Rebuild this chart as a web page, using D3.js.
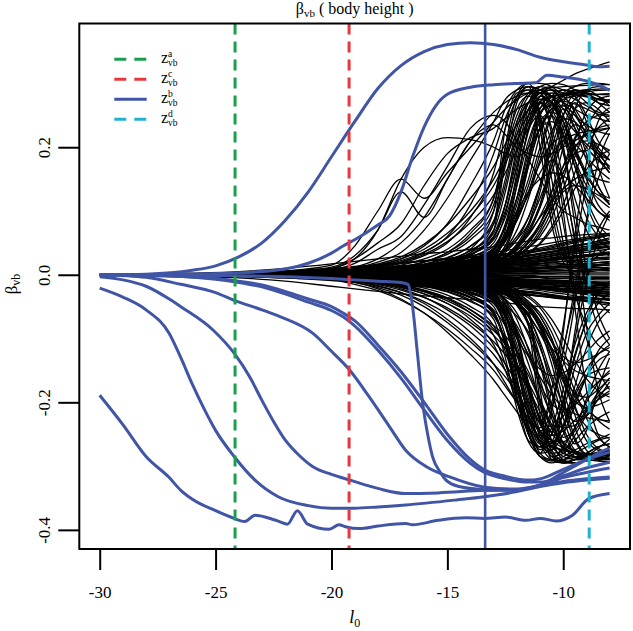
<!DOCTYPE html>
<html>
<head>
<meta charset="utf-8">
<script src="https://cdn.jsdelivr.net/npm/d3@7"></script>
<style>
  body { margin: 0; background: #fff; }
  svg text { font-family: "Liberation Serif", "DejaVu Serif", serif; white-space: pre; }
</style>
</head>
<body>
<svg id="chart" width="633" height="631"></svg>
<script>
// l0 grid shared by all the black coefficient paths
var gridX = [-30, -27, -24, -22, -20, -19, -18, -17, -16, -15, -14, -13, -12.5, -12, -11.5, -11, -10.5, -10, -9.5, -9, -8.5, -8];

// Black paths, beta x 1000, one value per gridX
// paths that stay close to zero (the dense wedge)
var fanPaths = [
  [0,0,1,2,4, 5,6,8,10,12, 14,17,18,20,22, 24,26,28,30,31, 33,35],
  [0,0,-1,-2,-4, -5,-6,-8,-9,-11, -13,-15,-16,-17,-18, -20,-22,-24,-25,-27, -28,-30],
  [0,1,2,4,7, 9,11,14,16,19, 22,26,28,31,34, 37,40,43,46,49, 52,55],
  [0,-1,-2,-4,-7, -9,-11,-13,-16,-18, -21,-24,-26,-28,-30, -33,-35,-37,-39,-41, -42,-44],
  [0,0,0,1,2, 2,3,4,5,6, 7,8,9,9,10, 11,12,13,13,14, 15,15],
  [0,0,0,-1,-2, -2,-3,-3,-4,-5, -6,-7,-7,-8,-9, -9,-10,-11,-11,-12, -13,-13],
  [0,0,1,3,6, 8,10,12,14,17, 20,24,27,30,34, 38,42,46,50,54, 58,62],
  [0,0,-1,-3,-5, -7,-9,-11,-13,-15, -17,-20,-22,-24,-26, -28,-31,-34,-37,-40, -42,-45],
  [0,0,0,0,1, 1,1,2,2,3, 3,4,4,5,5, 5,6,6,7,7, 8,8],
  [0,0,0,0,-1, -1,-1,-2,-2,-2, -3,-3,-3,-4,-4, -4,-5,-5,-5,-6, -6,-6],
  [0,1,3,6,10, 13,16,19,22,25, 28,31,33,35,36, 38,40,42,45,48, 50,52],
  [0,-1,-3,-5,-9, -11,-14,-17,-19,-22, -25,-28,-30,-31,-32, -34,-36,-38,-40,-41, -43,-45],
  [0,0,1,2,3, 4,5,6,8,9, 11,13,14,16,17, 18,20,21,22,24, 25,26],
  [0,0,-1,-2,-3, -4,-5,-6,-7,-8, -10,-11,-12,-13,-14, -15,-16,-17,-18,-19, -20,-21],
  [0,0,2,4,8, 11,14,18,22,26, 30,35,38,41,44, 47,50,53,56,59, 62,65],
  [0,0,-2,-4,-7, -9,-12,-15,-18,-21, -24,-27,-29,-31,-32, -33,-34,-35,-36,-36, -37,-38],
  [0,0,0,1,1, 2,2,3,3,4, 5,6,6,7,8, 9,10,11,12,13, 14,15],
  [0,0,0,-1,-1, -2,-2,-3,-4,-5, -6,-7,-8,-9,-10, -11,-12,-13,-14,-14, -15,-16],
  [0,0,1,2,4, 6,7,9,11,13, 15,18,20,23,26, 29,32,35,38,41, 44,47],
  [0,0,-1,-2,-3, -4,-6,-7,-9,-10, -12,-14,-15,-17,-19, -21,-23,-25,-27,-29, -31,-33],
  [0,1,2,5,9, 12,15,18,21,24, 27,30,32,34,37, 40,44,48,52,56, 59,62],
  [0,-1,-2,-5,-8, -10,-12,-14,-16,-18, -20,-22,-24,-26,-28, -30,-32,-34,-35,-36, -37,-38],
  [0,0,1,3,5, 7,9,12,15,19, 23,28,31,34,38, 42,46,50,54,57, 60,63],
  [0,0,-1,-3,-6, -8,-10,-13,-16,-19, -22,-25,-27,-29,-31, -33,-35,-36,-37,-38, -39,-40],
  [0,0,0,1,3, 4,5,7,9,11, 13,16,19,22,25, 27,30,33,36,39, 42,44],
  [0,0,0,-1,-2, -3,-4,-5,-6,-8, -9,-11,-12,-14,-16, -18,-20,-22,-24,-25, -26,-28],
  [0,2,5,10,17, 21,25,29,33,36, 40,44,47,50,53, 56,58,60,62,63, 64,65],
  [0,-2,-5,-10,-18, -22,-26,-30,-33,-36, -39,-42,-44,-46,-48, -50,-51,-52,-53,-53, -54,-55],
  [0,0,1,3,5, 7,9,11,13,16, 19,23,25,28,31, 34,37,40,44,48, 53,58],
  [0,0,1,2,4, 6,8,10,12,14, 17,20,22,24,27, 30,33,36,39,42, 46,50],
  [0,0,1,2,4, 5,7,9,11,13, 15,18,20,22,24, 27,30,33,36,39, 42,45],
  [0,0,1,2,3, 5,6,8,10,12, 14,16,18,20,22, 24,27,30,33,35, 38,40],
  [0,0,0,2,3, 4,6,7,9,11, 13,15,16,18,20, 22,24,27,29,31, 34,36],
  [0,0,0,1,3, 4,5,7,8,10, 12,13,15,16,18, 20,22,24,26,28, 30,32],
  [0,0,0,1,2, 3,4,6,7,8, 10,12,13,14,16, 17,19,21,23,25, 27,28],
  [0,0,0,1,2, 3,4,5,6,7, 9,10,11,12,14, 15,17,18,20,21, 23,24],
  [0,0,0,1,2, 2,3,4,5,6, 7,8,9,10,11, 12,13,15,16,17, 19,20],
  [0,0,0,1,1, 2,2,3,4,5, 6,7,8,9,10, 11,12,13,14,15, 16,17],
  [0,0,0,0,1, 1,2,2,3,3, 4,5,5,6,7, 7,8,9,10,11, 11,12],
  [0,0,0,0,1, 1,1,2,2,3, 3,4,4,5,5, 6,6,7,7,8, 9,10],
  [0,0,0,0,0, 1,1,1,1,2, 2,2,3,3,3, 4,4,4,5,5, 6,6],
  [0,0,0,0,0, 0,0,1,1,1, 1,1,2,2,2, 2,2,3,3,3, 3,3],
  [0,0,0,0,0, 0,0,0,0,0, 0,0,1,1,1, 1,1,1,1,1, 1,1],
  [0,0,0,0,0, 0,0,0,-1,-1, -1,-1,-1,-1,-1, -2,-2,-2,-2,-2, -2,-2],
  [0,0,0,0,0, 0,-1,-1,-1,-1, -2,-2,-2,-2,-3, -3,-3,-3,-4,-4, -4,-4],
  [0,0,0,0,-1, -1,-1,-2,-2,-3, -3,-4,-4,-5,-5, -5,-6,-6,-7,-7, -8,-8],
  [0,0,0,0,-1, -1,-2,-2,-3,-4, -4,-5,-6,-6,-7, -8,-8,-9,-10,-10, -11,-11],
  [0,0,0,-1,-1, -2,-2,-3,-4,-5, -6,-7,-8,-9,-10, -10,-11,-12,-13,-13, -14,-14],
  [0,0,0,-1,-2, -2,-3,-4,-5,-6, -7,-8,-9,-10,-11, -12,-13,-14,-15,-16, -17,-17],
  [0,0,0,-1,-2, -3,-4,-5,-6,-7, -8,-10,-11,-12,-13, -14,-15,-17,-18,-19, -20,-20],
  [0,0,-1,-1,-2, -3,-4,-5,-7,-8, -10,-11,-12,-14,-15, -17,-18,-19,-21,-22, -23,-24],
  [0,0,-1,-2,-3, -4,-5,-6,-8,-9, -11,-13,-14,-15,-17, -19,-20,-22,-24,-25, -26,-27],
  [0,0,-1,-2,-3, -4,-6,-7,-9,-11, -12,-14,-16,-17,-19, -21,-23,-25,-27,-28, -29,-31],
  [0,0,-1,-2,-4, -5,-6,-8,-10,-12, -14,-16,-17,-19,-21, -23,-25,-27,-29,-31, -33,-35],
  [0,0,-1,-2,-4, -5,-7,-9,-11,-13, -15,-17,-19,-21,-23, -25,-28,-30,-33,-35, -37,-40],
  [0,0,-1,-3,-5, -6,-8,-10,-12,-14, -17,-19,-21,-24,-27, -30,-33,-36,-39,-42, -45,-48],
  [0,0,1,2,4, 5,7,8,10,12, 14,17,19,21,24, 26,29,32,35,38, 41,43],
  [0,0,1,2,3, 4,5,7,8,10, 12,14,16,18,20, 22,25,27,29,31, 33,34],
  [0,0,0,1,2, 3,4,5,6,8, 9,11,12,14,15, 17,19,21,23,24, 26,27],
  [0,0,0,1,2, 3,4,5,7,9, 11,13,15,17,19, 21,23,25,28,30, 32,34],
  [0,0,1,3,5, 6,8,10,12,15, 18,21,24,27,30, 33,36,39,42,45, 47,49],
  [0,0,0,1,2, 2,3,4,5,7, 8,9,10,11,13, 14,15,16,17,18, 19,21],
  [0,0,0,-1,-2, -2,-3,-4,-5,-6, -8,-9,-10,-11,-12, -13,-14,-15,-17,-18, -19,-19],
  [0,0,0,-1,-2, -3,-4,-5,-6,-7, -9,-10,-11,-13,-14, -15,-16,-18,-19,-21, -22,-23],
  [0,0,-1,-2,-3, -4,-5,-6,-7,-9, -10,-12,-13,-15,-16, -18,-19,-21,-22,-24, -25,-26],
  [0,0,-1,-2,-3, -4,-5,-7,-8,-10, -12,-13,-15,-16,-18, -20,-21,-23,-25,-26, -28,-30],
  [0,0,-1,-2,-4, -5,-6,-8,-9,-11, -13,-15,-17,-18,-20, -22,-24,-26,-28,-30, -32,-34],
  [0,0,0,0,1, 1,2,2,3,4, 5,6,7,8,9, 10,11,12,13,14, 16,18],
  [0,0,0,0,-1, -1,-2,-2,-3,-4, -4,-5,-6,-7,-8, -8,-9,-10,-11,-12, -12,-13],
  [0,1,2,4,6, 8,10,12,14,16, 18,21,23,26,29, 32,35,38,41,44, 48,52],
  [0,0,0,1,2, 3,5,6,8,10, 11,13,15,17,19, 21,23,25,27,29, 31,33]
];

// paths that climb to large positive values
var risePaths = [
  [0,1,3,6,15, 45,100,150,120,160, 200,240,260,275,285, 290,293,295,296,297, 298,298],
  [0,1,2,5,12, 30,70,130,90,150, 210,235,220,200,190, 185,190,200,210,220, 225,230],
  [0,0,2,4,10, 25,50,80,140,190, 215,230,245,260,270, 275,280,283,285,287, 289,290],
  [0,0,1,3,8, 18,40,60,110,170, 230,250,240,210,180, 150,120,100,90,80, 75,70],
  [0,0,1,3,6, 12,25,50,90,150, 210,255,270,280,285, 285,280,270,260,250, 245,240],
  [0,0,1,2,5, 10,20,35,70,120, 180,240,275,290,295, 290,280,260,230,200, 180,170],
  [0,0,0,2,4, 8,15,25,45,80, 140,210,260,290,300, 300,295,280,260,230, 200,180],
  [0,0,0,1,3, 6,12,20,35,60, 110,190,245,280,295, 290,270,240,200,160, 130,110],
  [0,0,0,1,3, 5,10,18,30,50, 90,160,230,275,290, 285,260,220,170,130, 100,90],
  [0,0,0,1,2, 5,9,15,25,40, 70,120,190,250,285, 295,290,270,250,235, 225,220],
  [0,0,0,1,2, 4,8,13,20,32, 55,100,170,240,280, 295,300,298,290,280, 270,265],
  [0,0,0,1,2, 4,7,11,17,27, 45,80,140,220,270, 290,280,240,180,120, 80,60],
  [0,0,0,0,2, 3,6,10,15,23, 38,65,110,180,250, 285,290,270,230,180, 140,110],
  [0,0,0,0,1, 3,5,8,13,20, 32,55,90,150,230, 280,290,285,275,265, 255,250],
  [0,0,0,0,1, 3,5,8,12,18, 28,45,75,120,180, 250,280,290,285,270, 250,230],
  [0,0,0,0,1, 2,4,7,11,16, 25,40,60,100,150, 220,270,290,280,250, 210,190],
  [0,0,0,0,1, 2,4,6,10,15, 22,35,55,85,130, 190,250,280,290,285, 275,270],
  [0,0,0,1,2, 4,7,12,20,35, 65,120,200,260,280, 250,180,80,-20,-100, -150,-180],
  [0,0,0,1,2, 4,6,10,16,26, 45,85,150,230,270, 240,150,50,-30,-80, -110,-120],
  [0,0,0,0,1, 3,5,9,14,22, 38,70,130,210,260, 270,230,150,60,0, -40,-60],
  [0,0,0,1,2, 4,7,12,20,35, 60,110,180,240,270, 285,295,305,315,322, 328,334],
  [0,0,0,0,1, 2,4,6,9,14, 22,35,55,90,140, 200,255,285,295,300, 300,298],
  [0,0,0,0,1, 2,3,5,8,12, 18,28,40,60,90, 140,200,250,275,285, 280,270],
  [0,0,0,0,1, 2,3,5,7,11, 17,26,38,55,80, 120,170,220,260,270, 260,240],
  [0,0,0,1,2, 3,5,8,13,20, 35,80,200,280,300, 250,120,40,20,15, 12,10],
  [0,0,0,1,2, 3,5,8,12,18, 30,70,180,270,295, 230,100,30,15,10, 8,6],
  [0,0,0,1,2, 4,6,9,14,22, 40,100,230,285,290, 200,80,20,0,-10, -15,-20],
  [0,1,2,4,10, 25,70,150,200,215, 212,200,190,185,200, 230,260,275,280,282, 283,284],
  [0,0,0,0,1, 2,3,4,6,9, 14,22,40,90,170, 230,260,265,250,220, 190,170],
  [0,0,0,0,1, 2,3,5,7,10, 16,28,60,140,230, 270,250,190,120,70, 40,30],
  [0,0,0,0,1, 1,2,3,5,7, 11,17,26,40,65, 110,180,250,285,290, 280,265],
  [0,0,0,0,1, 2,3,4,6,8, 12,18,28,45,75, 130,210,260,240,190, 140,110],
  [0,0,0,0,1, 2,3,5,7,11, 18,32,70,160,250, 285,280,250,200,150, 110,90],
  [0,0,0,1,2, 3,5,8,12,19, 32,60,110,190,260, 290,295,290,285,280, 275,272],
  [0,0,0,0,1, 1,2,3,4,6, 9,13,19,28,42, 65,100,150,210,255, 275,280],
  [0,0,0,0,1, 2,3,4,5,7, 10,15,22,34,52, 80,120,170,215,240, 250,255],
  [0,0,0,1,2, 3,4,6,9,13, 20,34,60,110,180, 230,240,220,180,140, 120,105],
  [0,0,0,1,2, 3,5,7,11,17, 28,50,95,170,240, 275,270,230,170,110, 70,50],
  [0,0,0,0,1, 2,3,4,6,9, 13,20,30,48,80, 140,220,270,290,285, 270,255],
  [0,0,0,0,1, 2,3,5,8,12, 19,33,62,120,190, 240,255,245,225,205, 190,180],
  [0,0,0,0,1, 2,3,4,6,9, 13,20,30,45,65, 90,115,135,150,160, 165,168],
  [0,0,0,0,1, 1,2,3,5,7, 10,15,22,33,50, 75,105,130,140,135, 125,115],
  [0,0,0,1,2, 3,4,6,9,14, 22,38,65,100,130, 150,160,155,140,120, 100,85],
  [0,0,0,1,1, 2,4,6,9,14, 22,36,58,90,125, 160,190,210,220,225, 228,230],
  [0,0,1,2,5, 9,15,25,40,65, 100,150,185,220,250, 268,278,284,288,290, 291,292],
  [0,0,0,2,4, 8,13,22,36,58, 92,140,175,210,240, 262,274,280,283,284, 283,282],
  [0,0,1,2,5, 10,17,28,48,78, 120,170,205,235,258, 272,280,283,282,279, 276,274],
  [0,0,0,1,4, 7,12,20,32,52, 82,125,160,195,230, 255,268,272,268,260, 252,248],
  [0,0,0,0,1, 2,3,4,6,9, 14,24,45,95,180, 250,270,240,190,160, 150,145],
  [0,0,0,0,1, 2,3,4,5,7, 11,17,27,42,66, 105,160,210,235,225, 195,165],
  [0,0,0,0,1, 1,2,3,5,7, 10,14,20,29,42, 60,90,135,185,230, 260,275],
  [0,0,0,1,2, 3,4,6,9,14, 23,40,75,140,210, 255,265,240,195,155, 130,120],
  [0,0,0,0,1, 2,3,4,6,8, 12,18,26,38,55, 80,115,160,190,195, 180,160],
  [0,0,0,0,1, 2,3,5,7,10, 15,24,40,70,120, 180,225,245,240,215, 185,160],
  [0,0,0,0,1, 1,2,3,4,6, 8,11,16,23,33, 48,70,100,135,165, 185,195],
  [0,0,0,1,2, 3,4,6,9,13, 20,32,52,85,130, 175,205,215,205,185, 165,150],
  [0,0,0,1,2, 3,5,7,10,15, 24,42,80,150,225, 270,285,280,255,220, 195,180],
  [0,0,0,0,1, 2,3,4,6,9, 13,19,28,42,62, 92,130,170,200,210, 205,195]
];

// paths that fall to large negative values
var dropPaths = [
  [0,0,-1,-3,-8, -15,-25,-40,-60,-85, -115,-150,-175,-200,-225, -245,-260,-272,-280,-285, -288,-290],
  [0,0,-1,-2,-6, -12,-20,-32,-50,-75, -105,-140,-160,-185,-215, -245,-270,-285,-290,-288, -285,-282],
  [0,0,-1,-2,-5, -10,-18,-28,-42,-62, -90,-125,-150,-180,-220, -260,-285,-293,-290,-280, -270,-265],
  [0,0,-1,-2,-4, -8,-14,-22,-35,-55, -80,-115,-140,-170,-210, -250,-280,-295,-295,-290, -285,-280],
  [0,0,0,-2,-4, -7,-12,-19,-30,-45, -70,-110,-150,-200,-250, -285,-295,-290,-280,-270, -260,-255],
  [0,0,0,-1,-3, -6,-10,-16,-25,-38, -60,-95,-140,-195,-250, -285,-290,-270,-240,-200, -170,-150],
  [0,0,0,-1,-3, -5,-9,-14,-21,-32, -50,-80,-120,-180,-240, -280,-290,-285,-275,-265, -258,-250],
  [0,0,0,-1,-2, -5,-8,-12,-18,-27, -42,-65,-100,-150,-210, -265,-290,-295,-290,-285, -280,-278],
  [0,0,0,-1,-2, -4,-7,-11,-16,-24, -36,-55,-80,-120,-170, -230,-275,-292,-295,-290, -285,-280],
  [0,0,0,-1,-2, -4,-6,-10,-14,-20, -30,-45,-65,-95,-140, -200,-260,-290,-295,-292, -290,-288],
  [0,0,0,-1,-2, -3,-5,-8,-12,-18, -27,-40,-55,-80,-115, -165,-225,-275,-290,-290, -285,-280],
  [0,0,0,-1,-2, -3,-5,-7,-11,-16, -24,-35,-48,-65,-90, -130,-185,-240,-275,-285, -280,-270],
  [0,0,0,-1,-2, -3,-5,-7,-10,-14, -20,-28,-35,-45,-60, -200,-290,-295,-290,-280, -270,-265],
  [0,0,0,-1,-1, -3,-4,-6,-9,-13, -18,-25,-32,-40,-55, -180,-280,-295,-295,-290, -285,-280],
  [0,0,0,0,-1, -2,-4,-6,-9,-12, -17,-23,-30,-40,-80, -220,-285,-280,-260,-240, -225,-215],
  [0,0,0,-1,-2, -4,-7,-11,-17,-26, -40,-70,-130,-210,-260, -270,-240,-180,-110,-60, -30,-15],
  [0,0,0,-1,-2, -4,-6,-10,-15,-23, -36,-60,-110,-190,-250, -270,-250,-200,-130,-70, -30,-10],
  [0,0,0,-1,-2, -4,-6,-9,-14,-22, -35,-60,-110,-180,-230, -240,-180,-80,40,140, 200,230],
  [0,0,0,-1,-2, -3,-5,-8,-12,-18, -28,-45,-80,-140,-200, -230,-200,-120,-20,80, 150,190],
  [0,0,-1,-3,-7, -12,-22,-38,-60,-90, -125,-165,-190,-215,-240, -260,-270,-275,-278,-280, -282,-283],
  [0,0,-1,-2,-6, -10,-17,-28,-45,-70, -100,-140,-170,-200,-230, -255,-268,-275,-280,-283, -285,-286],
  [0,0,0,-1,-3, -5,-9,-15,-24,-36, -55,-85,-110,-140,-180, -225,-260,-280,-285,-283, -280,-276],
  [0,0,0,0,-1, -2,-3,-5,-7,-10, -14,-20,-27,-36,-50, -75,-120,-180,-240,-275, -290,-295],
  [0,0,0,0,-1, -2,-3,-5,-7,-10, -15,-21,-28,-38,-55, -85,-140,-210,-260,-285, -290,-290],
  [0,0,0,0,-1, -2,-3,-4,-6,-9, -13,-18,-24,-32,-45, -65,-100,-160,-220,-260, -275,-280],
  [0,0,0,0,-1, -2,-3,-4,-6,-9, -14,-22,-40,-90,-170, -230,-260,-262,-245,-215, -190,-175],
  [0,0,0,0,-1, -2,-3,-5,-7,-10, -16,-28,-60,-140,-225, -265,-250,-195,-125,-75, -45,-30],
  [0,0,0,0,-1, -1,-2,-3,-5,-7, -11,-17,-26,-40,-65, -110,-180,-245,-280,-288, -282,-270],
  [0,0,0,0,-1, -2,-3,-4,-6,-8, -12,-18,-28,-45,-75, -130,-205,-255,-240,-195, -150,-120],
  [0,0,0,0,-1, -2,-3,-5,-7,-11, -18,-32,-70,-160,-245, -280,-275,-250,-205,-160, -120,-100],
  [0,0,0,-1,-2, -3,-5,-8,-12,-19, -32,-58,-105,-180,-250, -285,-292,-290,-286,-282, -278,-275],
  [0,0,0,0,-1, -1,-2,-3,-4,-6, -9,-13,-19,-28,-42, -65,-100,-150,-205,-250, -272,-278],
  [0,0,0,0,-1, -2,-3,-4,-5,-7, -10,-15,-22,-34,-52, -80,-120,-165,-210,-238, -250,-256],
  [0,0,0,-1,-2, -3,-4,-6,-9,-13, -20,-34,-60,-110,-175, -225,-238,-222,-185,-148, -125,-110],
  [0,0,0,-1,-2, -3,-5,-7,-11,-17, -28,-50,-95,-165,-235, -270,-268,-235,-175,-115, -75,-55],
  [0,0,0,0,-1, -2,-3,-4,-6,-9, -13,-20,-30,-48,-80, -140,-215,-265,-287,-284, -272,-258],
  [0,0,0,0,-1, -2,-3,-5,-8,-12, -19,-33,-62,-118,-185, -235,-252,-245,-228,-210, -196,-186],
  [0,0,0,0,-1, -2,-3,-4,-6,-9, -13,-20,-30,-45,-65, -90,-115,-135,-150,-158, -163,-166],
  [0,0,0,0,-1, -1,-2,-3,-5,-7, -10,-15,-22,-33,-50, -75,-105,-128,-138,-134, -124,-114],
  [0,0,0,-1,-2, -3,-4,-6,-9,-14, -22,-38,-65,-100,-128, -148,-158,-154,-140,-122, -102,-88],
  [0,0,0,-1,-1, -2,-4,-6,-9,-14, -22,-36,-58,-90,-125, -160,-188,-208,-218,-224, -227,-229],
  [0,0,-1,-2,-5, -8,-13,-20,-30,-45, -65,-95,-115,-140,-170, -205,-240,-265,-278,-284, -287,-289],
  [0,0,-1,-2,-5, -9,-15,-24,-36,-52, -75,-105,-125,-150,-180, -215,-248,-270,-280,-284, -284,-283],
  [0,0,0,-1,-3, -6,-10,-17,-27,-41, -60,-88,-106,-128,-158, -198,-240,-270,-285,-290, -292,-293],
  [0,0,-1,-2,-4, -7,-11,-18,-26,-38, -55,-80,-96,-120,-152, -195,-235,-262,-276,-283, -286,-288],
  [0,0,0,0,-1, -2,-3,-4,-6,-9, -14,-24,-45,-95,-178, -245,-265,-238,-190,-160, -150,-146],
  [0,0,0,0,-1, -2,-3,-4,-5,-7, -11,-17,-27,-42,-66, -105,-158,-205,-230,-222, -195,-168],
  [0,0,0,0,-1, -1,-2,-3,-5,-7, -10,-14,-20,-29,-42, -60,-90,-135,-182,-225, -255,-270],
  [0,0,0,-1,-2, -3,-4,-6,-9,-14, -23,-40,-75,-138,-205, -250,-262,-240,-198,-160, -135,-125],
  [0,0,0,0,-1, -2,-3,-4,-6,-8, -12,-18,-26,-38,-55, -80,-115,-158,-186,-192, -180,-162],
  [0,0,0,0,-1, -2,-3,-5,-7,-10, -15,-24,-40,-70,-118, -176,-220,-240,-236,-212, -185,-162],
  [0,0,0,0,-1, -1,-2,-3,-4,-6, -8,-11,-16,-23,-33, -48,-70,-100,-134,-163, -182,-192],
  [0,0,0,-1,-2, -3,-4,-6,-9,-13, -20,-32,-52,-85,-128, -172,-202,-212,-204,-186, -168,-154],
  [0,0,0,-1,-2, -3,-5,-7,-10,-15, -24,-42,-80,-148,-220, -265,-280,-276,-252,-220, -196,-182],
  [0,0,0,0,-1, -2,-3,-4,-6,-9, -13,-19,-28,-42,-62, -92,-128,-168,-198,-208, -204,-196]
];

// paths that swing across zero on the right
var crossPaths = [
  [0,0,0,0,1, 2,3,5,8,12, 20,35,60,120,200, 250,205,100,-50,-180, -250,-270],
  [0,0,0,0,-1, -2,-3,-5,-8,-13, -22,-38,-65,-125,-195, -245,-210,-90,60,175, 240,262],
  [0,0,0,0,1, 1,2,4,6,9, 14,22,35,55,90, 140,180,150,50,-80, -180,-230],
  [0,0,0,0,-1, -1,-2,-4,-6,-10, -15,-24,-38,-60,-95, -145,-175,-140,-45,85, 175,222],
  [0,0,0,0,1, 2,3,5,7,10, 15,25,45,90,180, 260,280,200,80,-20, -80,-110],
  [0,0,0,0,-1, -2,-3,-5,-7,-11, -16,-27,-48,-95,-185, -255,-275,-210,-90,15, 70,100],
  [0,0,0,0,1, 2,3,4,6,8, 12,18,28,45,70, 110,170,230,270,240, 170,120],
  [0,0,0,0,-1, -2,-3,-4,-6,-9, -13,-20,-30,-48,-75, -115,-165,-225,-265,-245, -180,-130],
  [0,0,0,0,1, 1,2,3,5,7, 10,15,22,32,50, 80,130,200,260,290, 295,290],
  [0,0,0,0,-1, -1,-2,-3,-5,-7, -11,-16,-23,-34,-52, -82,-128,-195,-255,-282, -288,-284],
  [0,0,0,0,1, 2,3,4,5,7, 10,14,20,30,45, 70,110,160,200,220, 230,235],
  [0,0,0,0,-1, -2,-3,-4,-5,-8, -11,-15,-21,-31,-47, -72,-105,-150,-190,-212, -225,-232],
  [0,0,0,0,0, 1,2,3,4,6, 9,13,18,25,35, 50,75,110,160,200, 230,245],
  [0,0,0,0,0, -1,-2,-3,-4,-6, -9,-13,-18,-26,-36, -52,-80,-118,-165,-205, -228,-242],
  [0,0,0,1,2, 3,5,8,12,20, 35,60,100,170,240, 280,270,220,150,90, 60,40],
  [0,0,0,-1,-2, -3,-5,-8,-12,-21, -36,-62,-104,-172,-236, -274,-262,-214,-146,-92, -64,-45],
  [0,0,0,1,2, 3,5,8,12,19, 32,58,110,200,270, 285,220,120,40,-10, -30,-40],
  [0,0,0,-1,-2, -3,-5,-8,-12,-19, -32,-58,-108,-195,-262, -280,-215,-118,-38,10, 30,42],
  [0,0,0,0,1, 2,3,5,7,11, 18,30,55,100,170, 230,250,200,100,10, -60,-100],
  [0,0,0,0,-1, -2,-3,-5,-7,-11, -18,-30,-55,-100,-168, -226,-246,-198,-102,-12, 55,95]
];

// Highlighted blue paths, [l0, beta]
var bluePaths = [
  // top
  [[-30,0],[-28,0.001],[-26,0.007],[-25,0.014],[-24,0.028],[-23,0.05],[-22,0.085],[-21,0.13],[-20,0.185],[-19,0.24],[-18,0.292],[-17,0.328],[-16,0.35],[-15,0.361],[-14,0.364],[-13,0.361],[-12,0.353],[-11,0.341],[-10,0.334],[-9,0.329],[-8.5,0.326],[-8,0.327]],
  // second from top
  [[-30,0],[-26,0.001],[-24,0.003],[-22,0.009],[-21,0.018],[-20,0.034],[-19.5,0.045],[-19,0.055],[-18.5,0.066],[-18,0.078],[-17.5,0.092],[-17,0.13],[-16.5,0.185],[-16,0.232],[-15.5,0.265],[-15,0.283],[-14,0.294],[-13,0.298],[-12,0.3],[-11.2,0.301],[-10.7,0.313],[-10,0.31],[-9,0.304],[-8.5,0.298],[-8,0.289]],
  // lowest, starts at -0.19
  [[-30,-0.189],[-29,-0.235],[-28,-0.285],[-27,-0.318],[-26.5,-0.338],[-26,-0.352],[-25,-0.37],[-24.2,-0.382],[-23.74,-0.387],[-23.3,-0.377],[-22.4,-0.385],[-21.9,-0.391],[-21.47,-0.37],[-21.03,-0.391],[-20.1,-0.399],[-19.67,-0.392],[-19.4,-0.395],[-18.8,-0.398],[-18,-0.394],[-16.8,-0.39],[-16.5,-0.392],[-15.4,-0.385],[-14.2,-0.381],[-13.4,-0.382],[-12.5,-0.38],[-11.6,-0.385],[-11,-0.382],[-10.3,-0.386],[-9.6,-0.377],[-8.9,-0.351],[-8,-0.343]],
  [[-30,-0.021],[-29,-0.035],[-28,-0.055],[-27,-0.092],[-26.5,-0.13],[-26,-0.172],[-25.5,-0.21],[-25,-0.244],[-24.2,-0.285],[-23.3,-0.322],[-22.3,-0.348],[-21,-0.362],[-20,-0.366],[-19,-0.366],[-18,-0.364],[-16.8,-0.361],[-14.6,-0.353],[-13.4,-0.348],[-12,-0.34],[-11,-0.332],[-10,-0.326],[-9,-0.322],[-8,-0.319]],
  [[-30,-0.003],[-29,-0.008],[-28,-0.018],[-27,-0.038],[-26.5,-0.05],[-25.1,-0.087],[-24.2,-0.123],[-23.5,-0.162],[-23,-0.197],[-22.5,-0.23],[-22,-0.259],[-21.4,-0.283],[-20.8,-0.301],[-20,-0.313],[-19.2,-0.322],[-18,-0.335],[-16.8,-0.343],[-15.4,-0.342],[-13.4,-0.338],[-12,-0.337],[-11,-0.33],[-10,-0.324],[-9,-0.32],[-8,-0.317]],
  [[-30,0],[-28,-0.004],[-26.5,-0.015],[-25,-0.028],[-24.2,-0.04],[-23,-0.055],[-22.2,-0.066],[-20.8,-0.092],[-20,-0.12],[-19.2,-0.15],[-18.4,-0.19],[-17.5,-0.238],[-16.8,-0.275],[-15.9,-0.301],[-14.9,-0.317],[-13.4,-0.333],[-12,-0.336],[-11,-0.33],[-10,-0.318],[-9,-0.31],[-8,-0.303]],
  [[-30,0],[-27,-0.002],[-25,-0.006],[-24,-0.01],[-23,-0.016],[-22,-0.026],[-21,-0.038],[-20,-0.05],[-19.5,-0.06],[-19,-0.072],[-18,-0.11],[-17,-0.152],[-16,-0.2],[-15,-0.25],[-14,-0.29],[-13.4,-0.306],[-12.5,-0.316],[-11.5,-0.322],[-11,-0.32],[-10,-0.305],[-9,-0.29],[-8,-0.278]],
  [[-30,0],[-27,-0.002],[-25,-0.007],[-24,-0.012],[-23,-0.019],[-22,-0.03],[-21,-0.043],[-20,-0.056],[-19.5,-0.066],[-19,-0.08],[-18,-0.118],[-17,-0.162],[-16,-0.212],[-15,-0.26],[-14,-0.296],[-13.4,-0.31],[-12.5,-0.32],[-11.5,-0.325],[-11,-0.325],[-10,-0.315],[-9,-0.303],[-8,-0.294]],
  // stays near zero then drops sharply
  [[-30,0],[-26,-0.001],[-22,-0.003],[-20,-0.006],[-19,-0.008],[-18,-0.01],[-17,-0.012],[-16.7,-0.015],[-16.5,-0.05],[-16.3,-0.12],[-16.07,-0.2],[-15.85,-0.25],[-15.64,-0.285],[-15.3,-0.31],[-15.06,-0.322],[-14.5,-0.332],[-13.4,-0.337],[-12.5,-0.338],[-11.5,-0.335],[-11,-0.33],[-10,-0.31],[-9,-0.29],[-8.5,-0.28],[-8,-0.272]]
];

// Vertical reference lines z_vb
var refNames = ["a", "c", "b", "d"];
var refX = [-24.16, -19.24, -13.37, -8.88];

// Ticks
var xTicks = [-30, -25, -20, -15, -10];
var yTicks = [-0.4, -0.2, 0.0, 0.2];
var yTickLabels = ["-0.4", "-0.2", "0.0", "0.2"];

// Styles for reference lines
var refStyle = {
  "a": { color: "#1a9f4c", dash: "11,7", width: 3 },
  "c": { color: "#e5373e", dash: "11,7", width: 3 },
  "b": { color: "#4155a6", dash: null, width: 2.6 },
  "d": { color: "#22b2d1", dash: "11,7", width: 3 }
};
var BLUE = "#4155a6";
var SERIF = "'Liberation Serif', 'DejaVu Serif', serif";

// Plot box
var box = { left: 79.3, right: 630, top: 23.5, bottom: 549 };

var svg = d3.select("#chart");

svg.append("rect")
  .attr("width", 633)
  .attr("height", 631)
  .attr("fill", "#fff")
  ;

var x = d3.scaleLinear().domain([-30.88, -7.12]).range([box.left, box.right]);
var y = d3.scaleLinear().domain([-0.43, 0.394]).range([box.bottom, box.top]);

svg.append("clipPath")
  .attr("id", "plotclip")
  .append("rect")
  .attr("x", box.left)
  .attr("y", box.top)
  .attr("width", box.right - box.left)
  .attr("height", box.bottom - box.top)
  ;

var plot = svg.append("g").attr("clip-path", "url(#plotclip)");

// Black paths
var blackLine = d3.line()
  .x(function(d) { return x(d[0]); })
  .y(function(d) { return y(d[1] / 1000); })
  .curve(d3.curveMonotoneX)
  ;

var allBlack = fanPaths.concat(risePaths, dropPaths, crossPaths);

plot.append("g")
  .attr("class", "black")
  .selectAll("path")
  .data(allBlack)
  .enter().append("path")
  .attr("d", function(s) { return blackLine(d3.zip(gridX, s)); })
  .attr("fill", "none")
  .attr("stroke", "#000")
  .attr("stroke-width", 1.3)
  .attr("stroke-linejoin", "round")
  ;

// Blue paths
var blueLine = d3.line()
  .x(function(d) { return x(d[0]); })
  .y(function(d) { return y(d[1]); })
  .curve(d3.curveMonotoneX)
  ;

plot.append("g")
  .attr("class", "blue")
  .selectAll("path")
  .data(bluePaths)
  .enter().append("path")
  .attr("d", blueLine)
  .attr("fill", "none")
  .attr("stroke", BLUE)
  .attr("stroke-width", 3)
  .attr("stroke-linejoin", "round")
  ;

// Vertical reference lines
plot.append("g")
  .attr("class", "refs")
  .selectAll("line")
  .data(refNames)
  .enter().append("line")
  .attr("x1", function(d, i) { return x(refX[i]); })
  .attr("x2", function(d, i) { return x(refX[i]); })
  .attr("y1", box.top)
  .attr("y2", box.bottom)
  .attr("stroke", function(d) { return refStyle[d].color; })
  .attr("stroke-width", function(d) { return refStyle[d].width; })
  .attr("stroke-dasharray", function(d) { return refStyle[d].dash; })
  ;

// Box
svg.append("rect")
  .attr("x", box.left)
  .attr("y", box.top)
  .attr("width", box.right - box.left)
  .attr("height", box.bottom - box.top)
  .attr("fill", "none")
  .attr("stroke", "#000")
  .attr("stroke-width", 2)
  ;

// X axis
var xAxis = svg.append("g")
  .attr("transform", "translate(0," + box.bottom + ")")
  .call(d3.axisBottom(x).tickValues(xTicks).tickSize(21).tickSizeOuter(0).tickFormat(d3.format("d")))
  ;
xAxis.select(".domain").remove();
xAxis.selectAll(".tick line").attr("stroke", "#000").attr("stroke-width", 2);
xAxis.selectAll(".tick text")
  .attr("y", 49)
  .attr("dy", 0)
  .attr("fill", "#000")
  .style("font-size", "17px")
  .style("font-family", SERIF)
  .text(function(d) { return String(d).replace("\u2212", "-"); })
  ;

// Y axis
var yAxis = svg.append("g")
  .attr("transform", "translate(" + box.left + ",0)")
  .call(d3.axisLeft(y).tickValues(yTicks).tickSize(21).tickSizeOuter(0))
  ;
yAxis.select(".domain").remove();
yAxis.selectAll(".tick line").attr("stroke", "#000").attr("stroke-width", 2);
yAxis.selectAll(".tick text")
  .attr("x", 0)
  .attr("y", 0)
  .attr("dy", 0)
  .attr("text-anchor", "middle")
  .attr("transform", "translate(-29,0) rotate(-90)")
  .attr("fill", "#000")
  .style("font-size", "17px")
  .style("font-family", SERIF)
  .text(function(d, i) { return yTickLabels[i]; })
  ;

// Title
var title = svg.append("text")
  .attr("x", (box.left + box.right) / 2)
  .attr("y", 14)
  .attr("text-anchor", "middle")
  .style("font-size", "16px")
  ;
title.append("tspan").text("\u03b2");
title.append("tspan").attr("dy", 3).style("font-size", "11px").text("vb");
title.append("tspan").attr("dy", -3).text(" ( body height )");

// Y label
var ylab = svg.append("text")
  .attr("transform", "translate(17,284) rotate(-90)")
  .attr("text-anchor", "middle")
  .style("font-size", "17px")
  ;
ylab.append("tspan").text("\u03b2");
ylab.append("tspan").attr("dy", 3).style("font-size", "12px").text("vb");

// X label
var xlab = svg.append("text")
  .attr("x", (box.left + box.right) / 2)
  .attr("y", 623)
  .attr("text-anchor", "middle")
  .style("font-size", "18px")
  ;
xlab.append("tspan").style("font-style", "italic").text("l");
xlab.append("tspan").attr("dy", 4).style("font-size", "12px").text("0");

// Legend: one text per row, superscript and subscript stacked after the z
var legendY = [59.3, 79.3, 99.3, 119.3];
var legend = svg.append("g").attr("class", "legend");
var items = legend.selectAll("g")
  .data(refNames)
  .enter().append("g")
  .attr("transform", function(d, i) { return "translate(0," + legendY[i] + ")"; })
  ;
items.append("line")
  .attr("x1", 114.3)
  .attr("x2", 146.7)
  .attr("stroke", function(d) { return refStyle[d].color; })
  .attr("stroke-width", 3)
  .attr("stroke-dasharray", function(d) { return refStyle[d].dash ? "12,8" : null; })
  ;
var label = items.append("text")
  .attr("x", 161)
  .attr("y", 4)
  .style("font-size", "16px")
  ;
label.append("tspan").text("z");
label.append("tspan")
  .attr("x", 168)
  .attr("dy", -6)
  .style("font-size", "9.5px")
  .text(function(d) { return d; })
  ;
label.append("tspan")
  .attr("x", 168)
  .attr("dy", 9)
  .style("font-size", "9.5px")
  .text("vb")
  ;
</script>
</body>
</html>
